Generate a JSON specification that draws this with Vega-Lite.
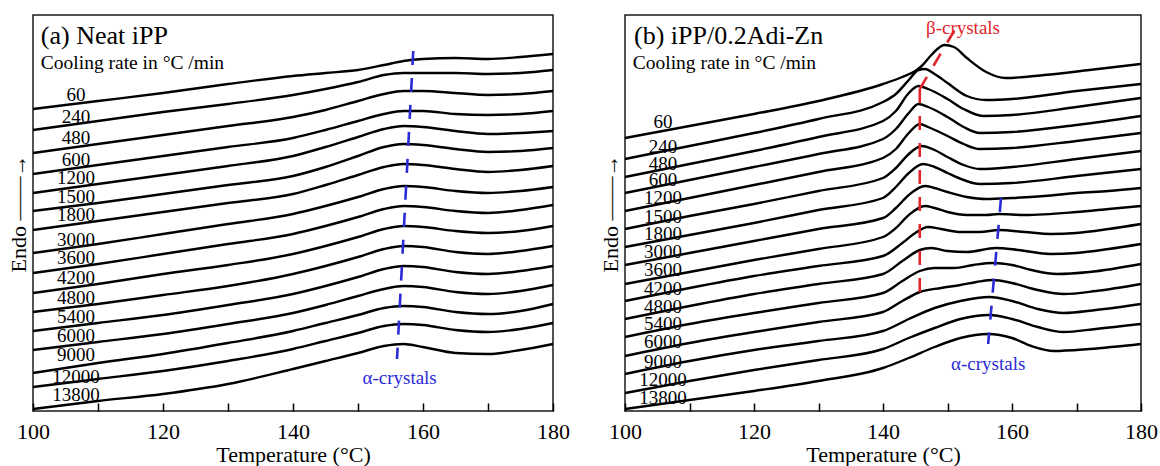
{
"$schema": "https://vega.github.io/schema/vega-lite/v6.json",
"background": "white",
"padding": {"left": 6, "top": 14, "right": 0, "bottom": 0},
"bounds": "flush",
"spacing": 72,
"config": {
  "view": {"stroke": "#1a1a1a", "strokeWidth": 1.5},
  "font": "Liberation Serif",
  "axis": {"grid": false, "domain": false, "labelFont": "Liberation Serif", "titleFont": "Liberation Serif", "labelColor": "black", "titleColor": "black", "titleFontWeight": "normal"},
  "text": {"font": "Liberation Serif", "color": "black"}
},
"datasets": {
"curves": [
{"p":"a","r":"60","t":100,"v":302},{"p":"a","r":"60","t":110,"v":310},{"p":"a","r":"60","t":120,"v":318},{"p":"a","r":"60","t":130,"v":327},{"p":"a","r":"60","t":140,"v":335},{"p":"a","r":"60","t":145,"v":338},{"p":"a","r":"60","t":150,"v":341},{"p":"a","r":"60","t":154,"v":346},{"p":"a","r":"60","t":157,"v":350},{"p":"a","r":"60","t":160,"v":352},{"p":"a","r":"60","t":165,"v":353},{"p":"a","r":"60","t":170,"v":352},{"p":"a","r":"60","t":175,"v":354},{"p":"a","r":"60","t":180,"v":357},
{"p":"a","r":"240","t":100,"v":281},{"p":"a","r":"240","t":110,"v":290},{"p":"a","r":"240","t":120,"v":299},{"p":"a","r":"240","t":130,"v":307},{"p":"a","r":"240","t":140,"v":316},{"p":"a","r":"240","t":145,"v":322},{"p":"a","r":"240","t":150,"v":329},{"p":"a","r":"240","t":154,"v":336},{"p":"a","r":"240","t":157,"v":338},{"p":"a","r":"240","t":160,"v":338},{"p":"a","r":"240","t":165,"v":338},{"p":"a","r":"240","t":170,"v":337},{"p":"a","r":"240","t":175,"v":338},{"p":"a","r":"240","t":180,"v":341},
{"p":"a","r":"480","t":100,"v":258},{"p":"a","r":"480","t":110,"v":267},{"p":"a","r":"480","t":120,"v":276},{"p":"a","r":"480","t":130,"v":285},{"p":"a","r":"480","t":140,"v":294},{"p":"a","r":"480","t":145,"v":301},{"p":"a","r":"480","t":150,"v":310},{"p":"a","r":"480","t":154,"v":317},{"p":"a","r":"480","t":157,"v":320},{"p":"a","r":"480","t":160,"v":320},{"p":"a","r":"480","t":165,"v":318},{"p":"a","r":"480","t":170,"v":316},{"p":"a","r":"480","t":175,"v":317},{"p":"a","r":"480","t":180,"v":320},
{"p":"a","r":"600","t":100,"v":237},{"p":"a","r":"600","t":110,"v":246},{"p":"a","r":"600","t":120,"v":255},{"p":"a","r":"600","t":130,"v":264},{"p":"a","r":"600","t":140,"v":273},{"p":"a","r":"600","t":145,"v":281},{"p":"a","r":"600","t":150,"v":290},{"p":"a","r":"600","t":154,"v":297},{"p":"a","r":"600","t":157,"v":300},{"p":"a","r":"600","t":160,"v":300},{"p":"a","r":"600","t":165,"v":297},{"p":"a","r":"600","t":170,"v":296},{"p":"a","r":"600","t":175,"v":297},{"p":"a","r":"600","t":180,"v":300},
{"p":"a","r":"1200","t":100,"v":218},{"p":"a","r":"1200","t":110,"v":227},{"p":"a","r":"1200","t":120,"v":236},{"p":"a","r":"1200","t":130,"v":245},{"p":"a","r":"1200","t":140,"v":255},{"p":"a","r":"1200","t":145,"v":264},{"p":"a","r":"1200","t":150,"v":274},{"p":"a","r":"1200","t":154,"v":282},{"p":"a","r":"1200","t":157,"v":285},{"p":"a","r":"1200","t":160,"v":284},{"p":"a","r":"1200","t":165,"v":280},{"p":"a","r":"1200","t":170,"v":277},{"p":"a","r":"1200","t":175,"v":278},{"p":"a","r":"1200","t":180,"v":280},
{"p":"a","r":"1500","t":100,"v":200},{"p":"a","r":"1500","t":110,"v":208},{"p":"a","r":"1500","t":120,"v":217},{"p":"a","r":"1500","t":130,"v":226},{"p":"a","r":"1500","t":140,"v":235},{"p":"a","r":"1500","t":145,"v":244},{"p":"a","r":"1500","t":150,"v":255},{"p":"a","r":"1500","t":154,"v":264},{"p":"a","r":"1500","t":157,"v":267},{"p":"a","r":"1500","t":160,"v":266},{"p":"a","r":"1500","t":165,"v":262},{"p":"a","r":"1500","t":170,"v":259},{"p":"a","r":"1500","t":175,"v":260},{"p":"a","r":"1500","t":180,"v":263},
{"p":"a","r":"1800","t":100,"v":181},{"p":"a","r":"1800","t":110,"v":190},{"p":"a","r":"1800","t":120,"v":199},{"p":"a","r":"1800","t":130,"v":208},{"p":"a","r":"1800","t":140,"v":217},{"p":"a","r":"1800","t":145,"v":226},{"p":"a","r":"1800","t":150,"v":236},{"p":"a","r":"1800","t":154,"v":244},{"p":"a","r":"1800","t":157,"v":247},{"p":"a","r":"1800","t":160,"v":246},{"p":"a","r":"1800","t":165,"v":242},{"p":"a","r":"1800","t":170,"v":239},{"p":"a","r":"1800","t":175,"v":241},{"p":"a","r":"1800","t":180,"v":245},
{"p":"a","r":"3000","t":100,"v":158},{"p":"a","r":"3000","t":110,"v":167},{"p":"a","r":"3000","t":120,"v":177},{"p":"a","r":"3000","t":130,"v":187},{"p":"a","r":"3000","t":140,"v":197},{"p":"a","r":"3000","t":145,"v":205},{"p":"a","r":"3000","t":150,"v":214},{"p":"a","r":"3000","t":154,"v":222},{"p":"a","r":"3000","t":157,"v":225},{"p":"a","r":"3000","t":160,"v":224},{"p":"a","r":"3000","t":165,"v":220},{"p":"a","r":"3000","t":170,"v":218},{"p":"a","r":"3000","t":175,"v":220},{"p":"a","r":"3000","t":180,"v":224},
{"p":"a","r":"3600","t":100,"v":138},{"p":"a","r":"3600","t":110,"v":147},{"p":"a","r":"3600","t":120,"v":157},{"p":"a","r":"3600","t":130,"v":167},{"p":"a","r":"3600","t":140,"v":177},{"p":"a","r":"3600","t":145,"v":185},{"p":"a","r":"3600","t":150,"v":194},{"p":"a","r":"3600","t":154,"v":202},{"p":"a","r":"3600","t":157,"v":205},{"p":"a","r":"3600","t":160,"v":204},{"p":"a","r":"3600","t":165,"v":200},{"p":"a","r":"3600","t":170,"v":198},{"p":"a","r":"3600","t":175,"v":201},{"p":"a","r":"3600","t":180,"v":206},
{"p":"a","r":"4200","t":100,"v":118},{"p":"a","r":"4200","t":110,"v":127},{"p":"a","r":"4200","t":120,"v":137},{"p":"a","r":"4200","t":130,"v":146},{"p":"a","r":"4200","t":140,"v":157},{"p":"a","r":"4200","t":145,"v":165},{"p":"a","r":"4200","t":150,"v":174},{"p":"a","r":"4200","t":154,"v":182},{"p":"a","r":"4200","t":157,"v":185},{"p":"a","r":"4200","t":160,"v":184},{"p":"a","r":"4200","t":165,"v":180},{"p":"a","r":"4200","t":170,"v":178},{"p":"a","r":"4200","t":175,"v":180},{"p":"a","r":"4200","t":180,"v":185},
{"p":"a","r":"4800","t":100,"v":99},{"p":"a","r":"4800","t":110,"v":107},{"p":"a","r":"4800","t":120,"v":116},{"p":"a","r":"4800","t":130,"v":125},{"p":"a","r":"4800","t":140,"v":137},{"p":"a","r":"4800","t":145,"v":145},{"p":"a","r":"4800","t":150,"v":154},{"p":"a","r":"4800","t":154,"v":162},{"p":"a","r":"4800","t":157,"v":165},{"p":"a","r":"4800","t":160,"v":164},{"p":"a","r":"4800","t":165,"v":159},{"p":"a","r":"4800","t":170,"v":157},{"p":"a","r":"4800","t":175,"v":160},{"p":"a","r":"4800","t":180,"v":165},
{"p":"a","r":"5400","t":100,"v":80},{"p":"a","r":"5400","t":110,"v":88},{"p":"a","r":"5400","t":120,"v":96},{"p":"a","r":"5400","t":130,"v":106},{"p":"a","r":"5400","t":140,"v":117},{"p":"a","r":"5400","t":145,"v":125},{"p":"a","r":"5400","t":150,"v":134},{"p":"a","r":"5400","t":154,"v":142},{"p":"a","r":"5400","t":157,"v":145},{"p":"a","r":"5400","t":160,"v":144},{"p":"a","r":"5400","t":165,"v":139},{"p":"a","r":"5400","t":170,"v":137},{"p":"a","r":"5400","t":175,"v":140},{"p":"a","r":"5400","t":180,"v":145},
{"p":"a","r":"6000","t":100,"v":61},{"p":"a","r":"6000","t":110,"v":69},{"p":"a","r":"6000","t":120,"v":77},{"p":"a","r":"6000","t":130,"v":87},{"p":"a","r":"6000","t":140,"v":98},{"p":"a","r":"6000","t":145,"v":106},{"p":"a","r":"6000","t":150,"v":115},{"p":"a","r":"6000","t":154,"v":122},{"p":"a","r":"6000","t":157,"v":125},{"p":"a","r":"6000","t":160,"v":124},{"p":"a","r":"6000","t":165,"v":119},{"p":"a","r":"6000","t":170,"v":117},{"p":"a","r":"6000","t":175,"v":120},{"p":"a","r":"6000","t":180,"v":126},
{"p":"a","r":"9000","t":100,"v":38},{"p":"a","r":"9000","t":110,"v":48},{"p":"a","r":"9000","t":120,"v":57},{"p":"a","r":"9000","t":130,"v":68},{"p":"a","r":"9000","t":140,"v":80},{"p":"a","r":"9000","t":145,"v":88},{"p":"a","r":"9000","t":150,"v":96},{"p":"a","r":"9000","t":154,"v":103},{"p":"a","r":"9000","t":157,"v":105},{"p":"a","r":"9000","t":160,"v":104},{"p":"a","r":"9000","t":165,"v":99},{"p":"a","r":"9000","t":170,"v":97},{"p":"a","r":"9000","t":175,"v":100},{"p":"a","r":"9000","t":180,"v":107},
{"p":"a","r":"12000","t":100,"v":24},{"p":"a","r":"12000","t":110,"v":32},{"p":"a","r":"12000","t":120,"v":40},{"p":"a","r":"12000","t":130,"v":50},{"p":"a","r":"12000","t":140,"v":62},{"p":"a","r":"12000","t":145,"v":70},{"p":"a","r":"12000","t":150,"v":78},{"p":"a","r":"12000","t":154,"v":85},{"p":"a","r":"12000","t":157,"v":87},{"p":"a","r":"12000","t":160,"v":86},{"p":"a","r":"12000","t":165,"v":81},{"p":"a","r":"12000","t":170,"v":79},{"p":"a","r":"12000","t":175,"v":82},{"p":"a","r":"12000","t":180,"v":88},
{"p":"a","r":"13800","t":100,"v":2},{"p":"a","r":"13800","t":110,"v":10},{"p":"a","r":"13800","t":120,"v":17},{"p":"a","r":"13800","t":130,"v":27},{"p":"a","r":"13800","t":140,"v":42},{"p":"a","r":"13800","t":145,"v":50},{"p":"a","r":"13800","t":150,"v":58},{"p":"a","r":"13800","t":154,"v":65},{"p":"a","r":"13800","t":157,"v":67},{"p":"a","r":"13800","t":160,"v":64},{"p":"a","r":"13800","t":165,"v":58},{"p":"a","r":"13800","t":170,"v":57},{"p":"a","r":"13800","t":175,"v":61},{"p":"a","r":"13800","t":180,"v":67},

{"p":"b","r":"60","t":100,"v":273},{"p":"b","r":"60","t":110,"v":285},{"p":"b","r":"60","t":120,"v":297},{"p":"b","r":"60","t":130,"v":310},{"p":"b","r":"60","t":140,"v":327},{"p":"b","r":"60","t":143,"v":334},{"p":"b","r":"60","t":145,"v":340},{"p":"b","r":"60","t":146,"v":345},{"p":"b","r":"60","t":147.5,"v":356},{"p":"b","r":"60","t":149.5,"v":366},{"p":"b","r":"60","t":151,"v":364},{"p":"b","r":"60","t":153,"v":353},{"p":"b","r":"60","t":156,"v":339},{"p":"b","r":"60","t":159,"v":333},{"p":"b","r":"60","t":165,"v":336},{"p":"b","r":"60","t":172,"v":341},{"p":"b","r":"60","t":180,"v":347},
{"p":"b","r":"240","t":100,"v":252},{"p":"b","r":"240","t":110,"v":265},{"p":"b","r":"240","t":120,"v":278},{"p":"b","r":"240","t":130,"v":292},{"p":"b","r":"240","t":140,"v":309},{"p":"b","r":"240","t":142,"v":317},{"p":"b","r":"240","t":144,"v":331},{"p":"b","r":"240","t":145.5,"v":341},{"p":"b","r":"240","t":146.5,"v":342},{"p":"b","r":"240","t":148,"v":337},{"p":"b","r":"240","t":150,"v":328},{"p":"b","r":"240","t":153,"v":315},{"p":"b","r":"240","t":156,"v":311},{"p":"b","r":"240","t":160,"v":312},{"p":"b","r":"240","t":170,"v":320},{"p":"b","r":"240","t":180,"v":327},
{"p":"b","r":"480","t":100,"v":234},{"p":"b","r":"480","t":110,"v":247},{"p":"b","r":"480","t":120,"v":260},{"p":"b","r":"480","t":130,"v":274},{"p":"b","r":"480","t":140,"v":290},{"p":"b","r":"480","t":142,"v":300},{"p":"b","r":"480","t":144,"v":318},{"p":"b","r":"480","t":145.5,"v":325},{"p":"b","r":"480","t":147,"v":322},{"p":"b","r":"480","t":150,"v":312},{"p":"b","r":"480","t":152.5,"v":302},{"p":"b","r":"480","t":155.5,"v":295},{"p":"b","r":"480","t":160,"v":296},{"p":"b","r":"480","t":170,"v":304},{"p":"b","r":"480","t":180,"v":313},
{"p":"b","r":"600","t":100,"v":218},{"p":"b","r":"600","t":110,"v":231},{"p":"b","r":"600","t":120,"v":244},{"p":"b","r":"600","t":130,"v":257},{"p":"b","r":"600","t":140,"v":272},{"p":"b","r":"600","t":142,"v":282},{"p":"b","r":"600","t":144,"v":298},{"p":"b","r":"600","t":145.5,"v":307},{"p":"b","r":"600","t":147,"v":304},{"p":"b","r":"600","t":150,"v":294},{"p":"b","r":"600","t":152.5,"v":284},{"p":"b","r":"600","t":155,"v":278},{"p":"b","r":"600","t":160,"v":279},{"p":"b","r":"600","t":170,"v":286},{"p":"b","r":"600","t":180,"v":295},
{"p":"b","r":"1200","t":100,"v":200},{"p":"b","r":"1200","t":110,"v":213},{"p":"b","r":"1200","t":120,"v":226},{"p":"b","r":"1200","t":130,"v":239},{"p":"b","r":"1200","t":140,"v":253},{"p":"b","r":"1200","t":142,"v":262},{"p":"b","r":"1200","t":144,"v":278},{"p":"b","r":"1200","t":145.7,"v":287},{"p":"b","r":"1200","t":147,"v":284},{"p":"b","r":"1200","t":150,"v":275},{"p":"b","r":"1200","t":152.5,"v":267},{"p":"b","r":"1200","t":155,"v":262},{"p":"b","r":"1200","t":160,"v":263},{"p":"b","r":"1200","t":170,"v":270},{"p":"b","r":"1200","t":180,"v":278},
{"p":"b","r":"1500","t":100,"v":182},{"p":"b","r":"1500","t":110,"v":195},{"p":"b","r":"1500","t":120,"v":207},{"p":"b","r":"1500","t":130,"v":220},{"p":"b","r":"1500","t":140,"v":233},{"p":"b","r":"1500","t":142,"v":243},{"p":"b","r":"1500","t":144,"v":257},{"p":"b","r":"1500","t":146,"v":265},{"p":"b","r":"1500","t":148,"v":261},{"p":"b","r":"1500","t":150,"v":254},{"p":"b","r":"1500","t":152.5,"v":246},{"p":"b","r":"1500","t":155,"v":242},{"p":"b","r":"1500","t":160,"v":244},{"p":"b","r":"1500","t":170,"v":252},{"p":"b","r":"1500","t":180,"v":260},
{"p":"b","r":"1800","t":100,"v":164},{"p":"b","r":"1800","t":110,"v":176},{"p":"b","r":"1800","t":120,"v":188},{"p":"b","r":"1800","t":130,"v":201},{"p":"b","r":"1800","t":140,"v":213},{"p":"b","r":"1800","t":142,"v":224},{"p":"b","r":"1800","t":144,"v":238},{"p":"b","r":"1800","t":146.2,"v":247},{"p":"b","r":"1800","t":148,"v":244},{"p":"b","r":"1800","t":150,"v":238},{"p":"b","r":"1800","t":152.5,"v":231},{"p":"b","r":"1800","t":155,"v":227},{"p":"b","r":"1800","t":160,"v":228},{"p":"b","r":"1800","t":170,"v":235},{"p":"b","r":"1800","t":180,"v":242},
{"p":"b","r":"3000","t":100,"v":146},{"p":"b","r":"3000","t":110,"v":158},{"p":"b","r":"3000","t":120,"v":170},{"p":"b","r":"3000","t":130,"v":182},{"p":"b","r":"3000","t":140,"v":193},{"p":"b","r":"3000","t":142,"v":203},{"p":"b","r":"3000","t":144,"v":216},{"p":"b","r":"3000","t":146.5,"v":225},{"p":"b","r":"3000","t":148,"v":223},{"p":"b","r":"3000","t":150,"v":219},{"p":"b","r":"3000","t":153,"v":214},{"p":"b","r":"3000","t":156,"v":212},{"p":"b","r":"3000","t":160,"v":213},{"p":"b","r":"3000","t":165,"v":215},{"p":"b","r":"3000","t":170,"v":218},{"p":"b","r":"3000","t":175,"v":220},{"p":"b","r":"3000","t":180,"v":223},
{"p":"b","r":"3600","t":100,"v":127},{"p":"b","r":"3600","t":110,"v":139},{"p":"b","r":"3600","t":120,"v":151},{"p":"b","r":"3600","t":130,"v":162},{"p":"b","r":"3600","t":140,"v":174},{"p":"b","r":"3600","t":142,"v":183},{"p":"b","r":"3600","t":144,"v":196},{"p":"b","r":"3600","t":146.5,"v":205},{"p":"b","r":"3600","t":148,"v":203},{"p":"b","r":"3600","t":150,"v":199},{"p":"b","r":"3600","t":153,"v":196},{"p":"b","r":"3600","t":156,"v":196},{"p":"b","r":"3600","t":158,"v":197},{"p":"b","r":"3600","t":162,"v":196},{"p":"b","r":"3600","t":170,"v":199},{"p":"b","r":"3600","t":175,"v":202},{"p":"b","r":"3600","t":180,"v":205},
{"p":"b","r":"4200","t":100,"v":110},{"p":"b","r":"4200","t":110,"v":123},{"p":"b","r":"4200","t":120,"v":135},{"p":"b","r":"4200","t":130,"v":145},{"p":"b","r":"4200","t":140,"v":155},{"p":"b","r":"4200","t":143,"v":168},{"p":"b","r":"4200","t":145,"v":178},{"p":"b","r":"4200","t":147,"v":184},{"p":"b","r":"4200","t":149,"v":182},{"p":"b","r":"4200","t":152,"v":179},{"p":"b","r":"4200","t":155,"v":179},{"p":"b","r":"4200","t":158,"v":181},{"p":"b","r":"4200","t":162,"v":179},{"p":"b","r":"4200","t":166,"v":177},{"p":"b","r":"4200","t":170,"v":178},{"p":"b","r":"4200","t":175,"v":182},{"p":"b","r":"4200","t":180,"v":187},
{"p":"b","r":"4800","t":100,"v":92},{"p":"b","r":"4800","t":110,"v":105},{"p":"b","r":"4800","t":120,"v":117},{"p":"b","r":"4800","t":130,"v":127},{"p":"b","r":"4800","t":140,"v":137},{"p":"b","r":"4800","t":143,"v":150},{"p":"b","r":"4800","t":145.7,"v":161},{"p":"b","r":"4800","t":147.5,"v":163},{"p":"b","r":"4800","t":150,"v":160},{"p":"b","r":"4800","t":153,"v":159},{"p":"b","r":"4800","t":157.5,"v":163},{"p":"b","r":"4800","t":161,"v":161},{"p":"b","r":"4800","t":166,"v":157},{"p":"b","r":"4800","t":170,"v":158},{"p":"b","r":"4800","t":175,"v":162},{"p":"b","r":"4800","t":180,"v":167},
{"p":"b","r":"5400","t":100,"v":74},{"p":"b","r":"5400","t":110,"v":87},{"p":"b","r":"5400","t":120,"v":98},{"p":"b","r":"5400","t":130,"v":108},{"p":"b","r":"5400","t":140,"v":118},{"p":"b","r":"5400","t":143,"v":130},{"p":"b","r":"5400","t":145.7,"v":140},{"p":"b","r":"5400","t":148,"v":143},{"p":"b","r":"5400","t":151,"v":143},{"p":"b","r":"5400","t":154,"v":146},{"p":"b","r":"5400","t":157,"v":148},{"p":"b","r":"5400","t":160,"v":146},{"p":"b","r":"5400","t":163,"v":141},{"p":"b","r":"5400","t":167,"v":137},{"p":"b","r":"5400","t":172,"v":139},{"p":"b","r":"5400","t":180,"v":147},
{"p":"b","r":"6000","t":100,"v":55},{"p":"b","r":"6000","t":110,"v":68},{"p":"b","r":"6000","t":120,"v":79},{"p":"b","r":"6000","t":130,"v":89},{"p":"b","r":"6000","t":140,"v":99},{"p":"b","r":"6000","t":143,"v":110},{"p":"b","r":"6000","t":145.7,"v":119},{"p":"b","r":"6000","t":149,"v":123},{"p":"b","r":"6000","t":152,"v":126},{"p":"b","r":"6000","t":154.5,"v":129},{"p":"b","r":"6000","t":157,"v":131},{"p":"b","r":"6000","t":160,"v":128},{"p":"b","r":"6000","t":164,"v":121},{"p":"b","r":"6000","t":168,"v":117},{"p":"b","r":"6000","t":173,"v":120},{"p":"b","r":"6000","t":180,"v":127},
{"p":"b","r":"9000","t":100,"v":37},{"p":"b","r":"9000","t":110,"v":50},{"p":"b","r":"9000","t":120,"v":61},{"p":"b","r":"9000","t":130,"v":70},{"p":"b","r":"9000","t":140,"v":80},{"p":"b","r":"9000","t":144,"v":92},{"p":"b","r":"9000","t":148,"v":103},{"p":"b","r":"9000","t":152,"v":110},{"p":"b","r":"9000","t":156.5,"v":114},{"p":"b","r":"9000","t":160,"v":110},{"p":"b","r":"9000","t":164,"v":102},{"p":"b","r":"9000","t":168,"v":98},{"p":"b","r":"9000","t":173,"v":101},{"p":"b","r":"9000","t":180,"v":107},
{"p":"b","r":"12000","t":100,"v":18},{"p":"b","r":"12000","t":110,"v":30},{"p":"b","r":"12000","t":120,"v":41},{"p":"b","r":"12000","t":130,"v":51},{"p":"b","r":"12000","t":140,"v":62},{"p":"b","r":"12000","t":144,"v":73},{"p":"b","r":"12000","t":148,"v":83},{"p":"b","r":"12000","t":152,"v":92},{"p":"b","r":"12000","t":156.5,"v":96},{"p":"b","r":"12000","t":160,"v":92},{"p":"b","r":"12000","t":164,"v":84},{"p":"b","r":"12000","t":168,"v":79},{"p":"b","r":"12000","t":173,"v":82},{"p":"b","r":"12000","t":180,"v":87},
{"p":"b","r":"13800","t":100,"v":2},{"p":"b","r":"13800","t":110,"v":11},{"p":"b","r":"13800","t":120,"v":20},{"p":"b","r":"13800","t":130,"v":30},{"p":"b","r":"13800","t":140,"v":43},{"p":"b","r":"13800","t":144,"v":53},{"p":"b","r":"13800","t":148,"v":64},{"p":"b","r":"13800","t":152,"v":73},{"p":"b","r":"13800","t":156.3,"v":77},{"p":"b","r":"13800","t":160,"v":73},{"p":"b","r":"13800","t":163,"v":65},{"p":"b","r":"13800","t":166.5,"v":60},{"p":"b","r":"13800","t":172,"v":62},{"p":"b","r":"13800","t":180,"v":67}
],
"labels": [
{"p":"a","s":"60","t":106.6,"v":310},{"p":"a","s":"240","t":106.6,"v":288},{"p":"a","s":"480","t":106.6,"v":267},{"p":"a","s":"600","t":106.6,"v":245},{"p":"a","s":"1200","t":106.6,"v":227},{"p":"a","s":"1500","t":106.6,"v":208},{"p":"a","s":"1800","t":106.6,"v":190},{"p":"a","s":"3000","t":106.6,"v":165},{"p":"a","s":"3600","t":106.6,"v":147},{"p":"a","s":"4200","t":106.6,"v":127},{"p":"a","s":"4800","t":106.6,"v":107},{"p":"a","s":"5400","t":106.6,"v":88},{"p":"a","s":"6000","t":106.6,"v":69},{"p":"a","s":"9000","t":106.6,"v":50},{"p":"a","s":"12000","t":106.6,"v":28},{"p":"a","s":"13800","t":106.6,"v":10},
{"p":"b","s":"60","t":105.9,"v":283},{"p":"b","s":"240","t":105.9,"v":258},{"p":"b","s":"480","t":105.9,"v":241},{"p":"b","s":"600","t":105.9,"v":225},{"p":"b","s":"1200","t":105.9,"v":207},{"p":"b","s":"1500","t":105.9,"v":188},{"p":"b","s":"1800","t":105.9,"v":171},{"p":"b","s":"3000","t":105.9,"v":153},{"p":"b","s":"3600","t":105.9,"v":135},{"p":"b","s":"4200","t":105.9,"v":116},{"p":"b","s":"4800","t":105.9,"v":98},{"p":"b","s":"5400","t":105.9,"v":81},{"p":"b","s":"6000","t":105.9,"v":63},{"p":"b","s":"9000","t":105.9,"v":43},{"p":"b","s":"12000","t":105.9,"v":25},{"p":"b","s":"13800","t":105.9,"v":7}
]
},
"hconcat": [
{
  "width": 520, "height": 396,
  "encoding": {
    "x": {"field": "t", "type": "quantitative", "scale": {"domain": [100, 180], "nice": false},
          "axis": {"title": "Temperature (°C)", "values": [100,110,120,130,140,150,160,170,180], "labelExpr": "datum.value % 20 === 0 ? datum.label : ''", "tickSize": -8, "tickColor": "black", "tickWidth": 1.5, "labelFontSize": 22, "titleFontSize": 22, "labelPadding": 18, "titlePadding": 2, "labelFlush": false, "labelOverlap": false, "encode": {"ticks": {"update": {"y2": {"signal": "datum.value % 20 === 0 ? -8 : -4"}}}}}},
    "y": {"field": "v", "type": "quantitative", "scale": {"domain": [0, 396], "nice": false},
          "axis": {"title": "Endo     ——→", "labels": false, "ticks": false, "titleFontSize": 22, "titlePadding": 3}}
  },
  "layer": [
    {"data": {"name": "curves"}, "transform": [{"filter": "datum.p === 'a'"}],
     "mark": {"type": "line", "interpolate": "monotone", "stroke": "black", "strokeWidth": 2.4},
     "encoding": {"detail": {"field": "r"}}},
    {"data": {"values": [{"t": 158.5, "v": 360, "t2": 156.0, "v2": 52}]},
     "mark": {"type": "rule", "color": "#2b2bd6", "strokeWidth": 2.6, "strokeDash": [14, 13]},
     "encoding": {"x2": {"field": "t2"}, "y2": {"field": "v2"}}},
    {"data": {"name": "labels"}, "transform": [{"filter": "datum.p === 'a'"}],
     "mark": {"type": "text", "fontSize": 19, "align": "center", "baseline": "alphabetic"},
     "encoding": {"text": {"field": "s"}}},
    {"data": {"values": [{"s": "(a) Neat iPP", "t": 101.2, "v": 367}]},
     "mark": {"type": "text", "fontSize": 26, "align": "left", "baseline": "alphabetic"},
     "encoding": {"text": {"field": "s"}}},
    {"data": {"values": [{"s": "Cooling rate in °C /min", "t": 101.2, "v": 342}]},
     "mark": {"type": "text", "fontSize": 19.5, "align": "left", "baseline": "alphabetic"},
     "encoding": {"text": {"field": "s"}}},
    {"data": {"values": [{"s": "α-crystals", "t": 156.4, "v": 27}]},
     "mark": {"type": "text", "fontSize": 19, "align": "center", "baseline": "alphabetic", "color": "#2b2bd6"},
     "encoding": {"text": {"field": "s"}}}
  ]
},
{
  "width": 516, "height": 396,
  "encoding": {
    "x": {"field": "t", "type": "quantitative", "scale": {"domain": [100, 180], "nice": false},
          "axis": {"title": "Temperature (°C)", "values": [100,110,120,130,140,150,160,170,180], "labelExpr": "datum.value % 20 === 0 ? datum.label : ''", "tickSize": -8, "tickColor": "black", "tickWidth": 1.5, "labelFontSize": 22, "titleFontSize": 22, "labelPadding": 18, "titlePadding": 2, "labelFlush": false, "labelOverlap": false, "encode": {"ticks": {"update": {"y2": {"signal": "datum.value % 20 === 0 ? -8 : -4"}}}}}},
    "y": {"field": "v", "type": "quantitative", "scale": {"domain": [0, 396], "nice": false},
          "axis": {"title": "Endo     ——→", "labels": false, "ticks": false, "titleFontSize": 22, "titlePadding": 3}}
  },
  "layer": [
    {"data": {"name": "curves"}, "transform": [{"filter": "datum.p === 'b'"}],
     "mark": {"type": "line", "interpolate": "monotone", "stroke": "black", "strokeWidth": 2.4},
     "encoding": {"detail": {"field": "r"}}},
    {"data": {"values": [{"t": 158.3, "v": 213, "t2": 156.3, "v2": 67}]},
     "mark": {"type": "rule", "color": "#2b2bd6", "strokeWidth": 2.6, "strokeDash": [14, 13]},
     "encoding": {"x2": {"field": "t2"}, "y2": {"field": "v2"}}},
    {"data": {"values": [{"t": 145.7, "v": 322, "t2": 145.7, "v2": 108}, {"t": 145.7, "v": 322, "t2": 151.2, "v2": 382}]},
     "mark": {"type": "rule", "color": "#e0242c", "strokeWidth": 2.6, "strokeDash": [14, 13]},
     "encoding": {"x2": {"field": "t2"}, "y2": {"field": "v2"}}},
    {"data": {"name": "labels"}, "transform": [{"filter": "datum.p === 'b'"}],
     "mark": {"type": "text", "fontSize": 19, "align": "center", "baseline": "alphabetic"},
     "encoding": {"text": {"field": "s"}}},
    {"data": {"values": [{"s": "(b) iPP/0.2Adi-Zn", "t": 101.4, "v": 367}]},
     "mark": {"type": "text", "fontSize": 26, "align": "left", "baseline": "alphabetic"},
     "encoding": {"text": {"field": "s"}}},
    {"data": {"values": [{"s": "Cooling rate in °C /min", "t": 101.2, "v": 342}]},
     "mark": {"type": "text", "fontSize": 19.5, "align": "left", "baseline": "alphabetic"},
     "encoding": {"text": {"field": "s"}}},
    {"data": {"values": [{"s": "α-crystals", "t": 156.3, "v": 41}]},
     "mark": {"type": "text", "fontSize": 19, "align": "center", "baseline": "alphabetic", "color": "#2b2bd6"},
     "encoding": {"text": {"field": "s"}}},
    {"data": {"values": [{"s": "β-crystals", "t": 152.4, "v": 377}]},
     "mark": {"type": "text", "fontSize": 19, "align": "center", "baseline": "alphabetic", "color": "#e0242c"},
     "encoding": {"text": {"field": "s"}}}
  ]
}
]
}
